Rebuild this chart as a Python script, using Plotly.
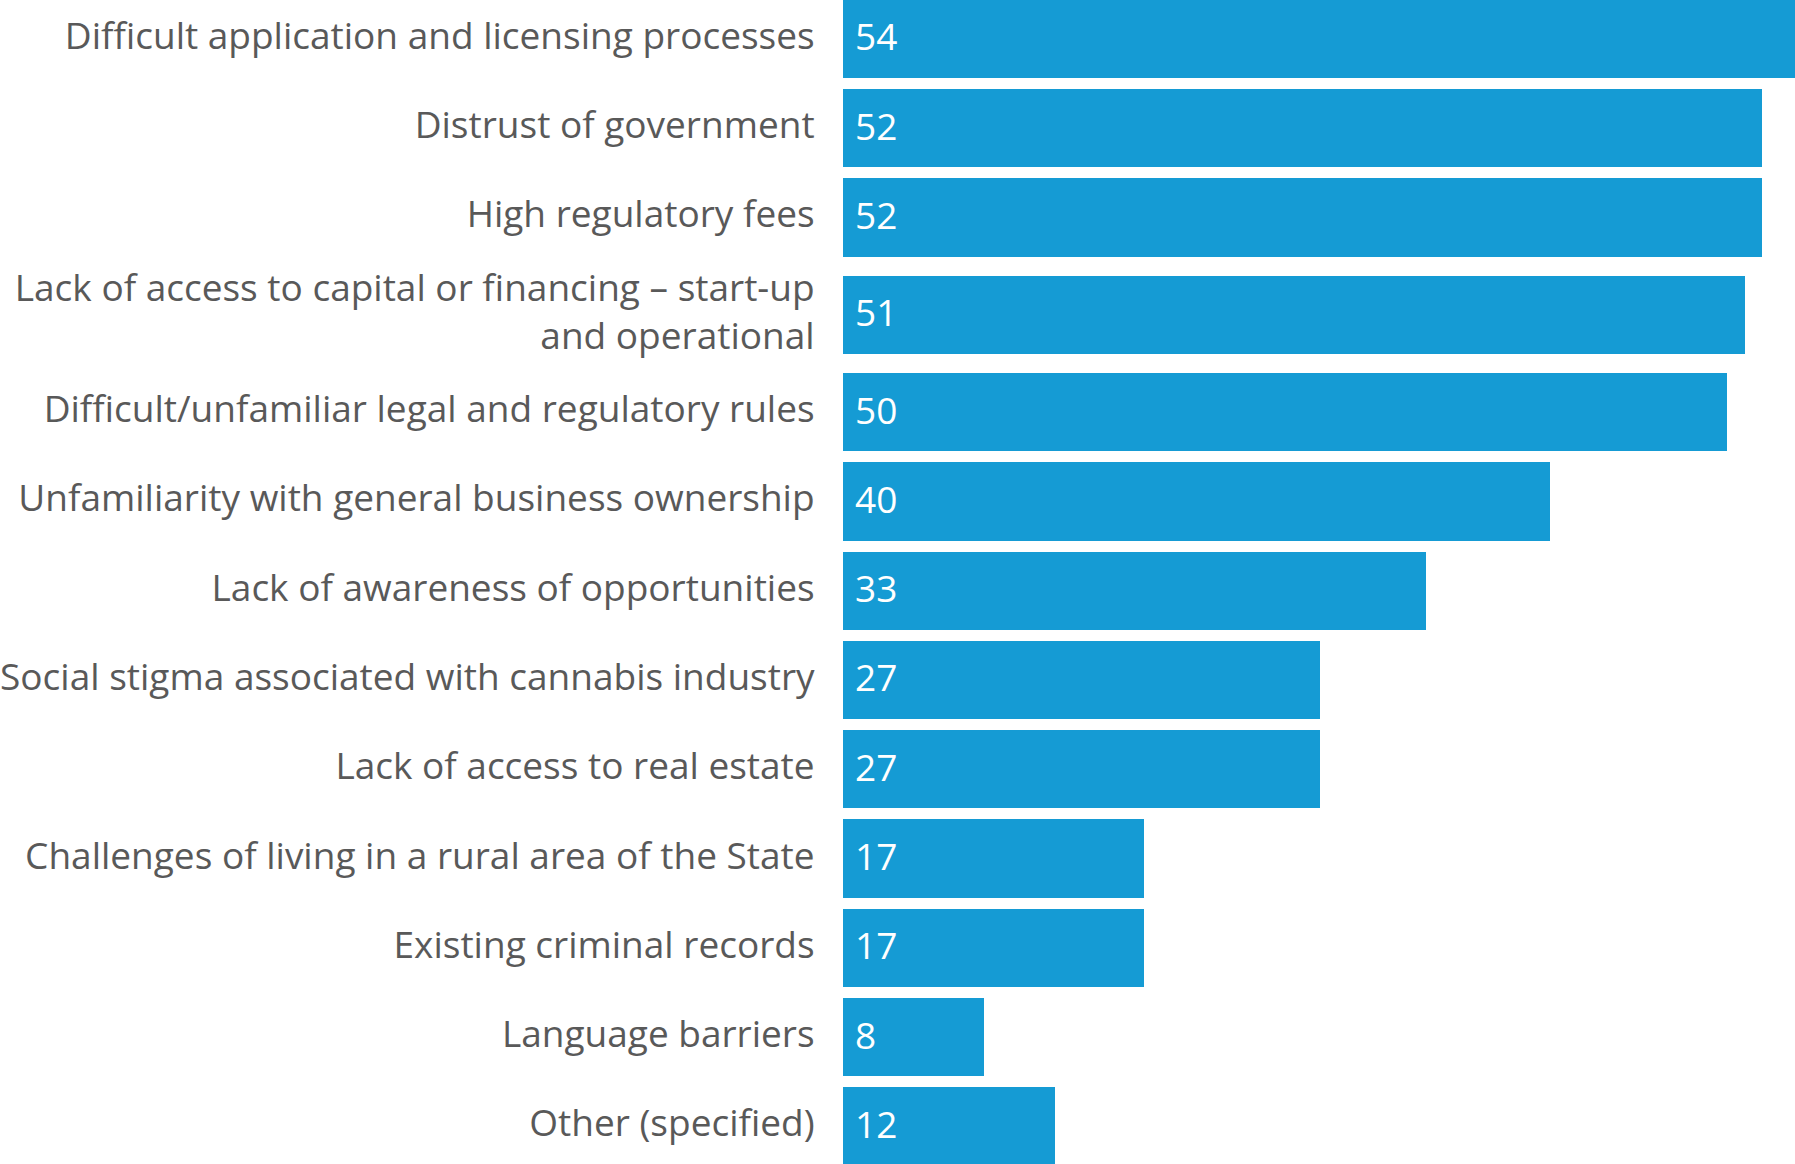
import plotly.graph_objects as go

categories = [
    "Difficult application and licensing processes",
    "Distrust of government",
    "High regulatory fees",
    "Lack of access to capital or financing – start-up<br>and operational",
    "Difficult/unfamiliar legal and regulatory rules",
    "Unfamiliarity with general business ownership",
    "Lack of awareness of opportunities",
    "Social stigma associated with cannabis industry",
    "Lack of access to real estate",
    "Challenges of living in a rural area of the State",
    "Existing criminal records",
    "Language barriers",
    "Other (specified)",
]
values = [54, 52, 52, 51, 50, 40, 33, 27, 27, 17, 17, 8, 12]

BAR_COLOR = "#159bd4"
LABEL_COLOR = "#595959"
FONT = "Open Sans"
FS = 37

# row positions: multi-line labels get a little extra room on each side
extra = 0.09
positions = []
cur = 0.0
for i, c in enumerate(categories):
    lines = c.count("<br>") + 1
    if i > 0:
        prev_lines = categories[i - 1].count("<br>") + 1
        cur += 1 + extra * (prev_lines - 1) + extra * (lines - 1)
    positions.append(cur)

fig = go.Figure()
fig.add_trace(go.Bar(
    x=values, y=positions, orientation="h",
    width=0.877, marker=dict(color=BAR_COLOR, line=dict(width=0)),
    hoverinfo="skip",
))

for v, p in zip(values, positions):
    fig.add_annotation(x=0, y=p, text=str(v), showarrow=False,
                       xanchor="left", yanchor="middle", xshift=10, yshift=3,
                       font=dict(family=FONT, size=FS, color="white"))

fig.update_layout(
    width=1795, height=1164,
    margin=dict(l=843, r=0, t=0, b=0),
    paper_bgcolor="white", plot_bgcolor="white",
    showlegend=False,
    bargap=0,
    font=dict(family=FONT, size=FS, color=LABEL_COLOR),
)
fig.update_xaxes(range=[0, 53.85], visible=False, fixedrange=True)
fig.update_yaxes(
    range=[positions[-1] + 0.42, -0.4345],
    tickvals=positions, ticktext=categories,
    showgrid=False, zeroline=False, showline=False,
    ticks="outside", ticklen=20, tickcolor="rgba(0,0,0,0)",
    ticklabelshift=3,
    tickfont=dict(family=FONT, size=FS, color=LABEL_COLOR),
    automargin=False, fixedrange=True,
)

fig.write_html("out.html", config={"displayModeBar": False},
               post_script="document.body.style.margin='0';document.body.style.overflow='hidden';")
